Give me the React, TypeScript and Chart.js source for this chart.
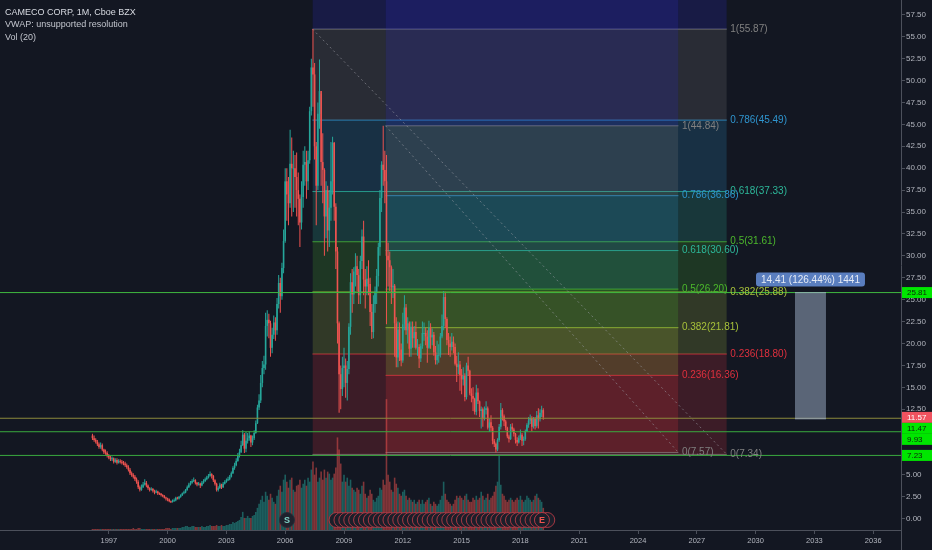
import React, { useEffect, useRef } from "react";
import { Chart, registerables } from "chart.js";

Chart.register(...registerables);

// ---------- data (monthly candles, Mar 1996 .. Mar 2019) ----------
const START_YEAR = 1996;
const START_MONTH = 2; // March, 0-based
const FIRST_OPEN = 9.5;

const closes = [
  9.2, 9.0, 8.8, 8.5, 8.2, 8.4, 7.9, 7.6, 7.5, 7.2,
  7.0, 6.8, 6.9, 6.5, 6.7, 6.4, 6.6, 6.5, 6.4, 6.3, 6.1, 5.9,
  5.6, 5.2, 5.0, 4.8, 4.5, 4.2, 3.6, 3.3, 3.6, 3.9, 4.1, 3.8,
  3.5, 3.3, 3.4, 3.2, 3.0, 3.1, 2.9, 2.85, 2.7, 2.6, 2.4, 2.3,
  2.2, 2.0, 1.9, 2.0, 2.1, 2.4, 2.3, 2.5, 2.7, 2.9, 3.0, 3.3,
  3.6, 3.9, 4.1, 4.3, 4.4, 4.1, 3.9, 4.0, 3.8, 4.1, 4.3, 4.5,
  4.7, 4.9, 5.1, 4.9, 4.4, 4.0, 3.3, 3.5, 3.9, 3.6, 4.0, 4.2,
  4.4, 4.5, 4.8, 5.2, 5.8, 6.1, 6.6, 7.2, 7.6, 8.4, 9.6, 8.0,
  8.9, 9.2, 9.5, 8.7, 9.2, 9.8, 10.9, 12.7, 13.5, 15.5, 17.2, 17.6,
  22.0, 22.7, 22.3, 19.5, 21.0, 22.4, 21.5, 24.5, 26.9, 25.4, 28.6, 31.7,
  38.5, 37.0, 36.0, 40.5, 40.0, 40.0, 39.0, 37.5, 36.5, 33.8, 36.7, 40.4,
  40.7, 38.5, 40.9, 46.5, 51.5, 50.7, 42.5, 38.0, 46.2, 48.8, 40.7, 39.8,
  34.5, 37.5, 32.9, 35.5, 38.5, 42.9, 35.6, 30.5, 22.3, 16.5, 14.8, 17.2,
  17.5, 15.5, 17.1, 21.9, 27.0, 25.6, 28.2, 28.8, 27.8, 25.5, 29.4, 32.2,
  27.3, 26.5, 27.4, 26.8, 23.6, 21.3, 24.5, 25.9, 27.7, 31.0, 36.6, 40.4,
  39.8, 38.5, 30.0, 29.5, 28.7, 26.4, 26.6, 22.3, 18.4, 21.6, 19.3, 18.05,
  22.2, 24.1, 21.5, 22.3, 19.4, 21.9, 20.6, 21.3, 19.5, 19.6, 18.3, 19.7,
  21.2, 21.2, 20.8, 19.5, 21.8, 20.7, 21.0, 19.0, 18.1, 18.7, 18.7, 20.8,
  22.0, 25.3, 22.8, 20.4, 20.0, 19.6, 20.2, 19.6, 17.7, 17.3, 17.6, 16.4,
  15.9, 16.3, 13.9, 17.5, 16.9, 14.3, 14.0, 13.7, 12.2, 14.4, 13.4, 12.3,
  12.5, 11.4, 12.4, 12.6, 10.4, 11.0, 10.4, 8.9, 8.55, 7.9, 9.0, 10.5,
  12.4, 11.7, 11.1, 10.4, 9.4, 9.1, 10.5, 10.2, 9.7, 9.0, 8.7, 9.2,
  9.6, 8.9, 9.1, 10.0, 10.7, 11.2, 11.5, 10.5, 11.4, 10.6, 11.8, 11.35,
  12.1, 12.4, 11.57,
];

const highs = [
  9.7, 9.5, 9.2, 9.0, 8.7, 8.7, 8.6, 8.0, 7.9, 7.7,
  7.4, 7.2, 7.1, 7.0, 6.9, 6.9, 6.8, 6.8, 6.7, 6.6, 6.5, 6.3,
  6.1, 5.8, 5.4, 5.2, 5.0, 4.7, 4.4, 3.8, 3.9, 4.2, 4.5, 4.3,
  3.9, 3.6, 3.6, 3.5, 3.3, 3.3, 3.2, 3.0, 2.95, 2.8, 2.7, 2.5,
  2.4, 2.3, 2.1, 2.2, 2.3, 2.5, 2.5, 2.6, 2.8, 3.0, 3.2, 3.4,
  3.8, 4.1, 4.3, 4.5, 4.7, 4.5, 4.2, 4.2, 4.1, 4.3, 4.5, 4.7,
  4.9, 5.1, 5.4, 5.2, 5.0, 4.5, 4.1, 3.7, 4.1, 4.0, 4.2, 4.4,
  4.6, 4.8, 5.0, 5.4, 6.0, 6.4, 6.9, 7.5, 8.0, 8.9, 10.1, 9.8,
  9.9, 9.8, 10.0, 9.6, 9.5, 10.1, 11.2, 13.0, 14.2, 16.4, 18.0, 18.6,
  23.5, 23.8, 23.4, 22.6, 21.8, 23.2, 23.0, 25.2, 27.8, 27.5, 29.2, 33.0,
  40.0, 40.0, 39.0, 44.4, 43.5, 42.0, 41.5, 41.8, 39.5, 37.0, 38.5, 42.0,
  42.5, 42.0, 42.0, 47.0, 52.5, 55.87, 52.0, 43.0, 47.5, 52.4, 48.5, 44.0,
  40.0, 38.5, 38.0, 37.5, 43.0, 43.6, 43.0, 36.0, 31.0, 22.5, 17.5, 18.5,
  19.5, 18.3, 18.0, 22.3, 28.0, 28.5, 28.7, 30.3, 30.0, 28.5, 30.0, 33.0,
  34.0, 28.5, 28.8, 29.5, 27.5, 24.5, 25.5, 26.5, 28.5, 31.5, 37.5, 40.8,
  44.84, 42.0, 41.5, 31.5, 30.5, 28.9, 28.5, 26.8, 23.0, 22.5, 22.4, 20.0,
  23.5, 25.5, 24.5, 23.0, 22.5, 22.5, 22.5, 22.0, 22.5, 20.5, 19.9, 20.0,
  22.5, 22.4, 21.8, 21.5, 22.6, 22.3, 21.7, 21.3, 19.7, 20.3, 19.9, 21.2,
  23.3, 26.0, 25.9, 23.0, 21.2, 20.8, 21.2, 20.8, 20.0, 18.6, 19.0, 18.0,
  17.1, 17.3, 16.6, 17.8, 18.5, 17.0, 14.9, 15.0, 13.8, 15.3, 14.9, 13.5,
  12.8, 12.7, 12.8, 13.4, 12.8, 11.4, 11.8, 10.6, 9.1, 8.7, 9.2, 10.8,
  13.2, 12.6, 11.9, 11.3, 10.5, 9.6, 10.8, 10.9, 10.4, 9.8, 9.3, 9.5,
  10.2, 9.8, 9.4, 10.2, 10.9, 11.6, 11.9, 11.7, 11.6, 11.6, 12.3, 12.6,
  12.5, 12.9, 12.6,
];

const lows = [
  9.0, 8.8, 8.6, 8.3, 8.0, 8.0, 7.7, 7.4, 7.3, 7.0,
  6.8, 6.6, 6.6, 6.3, 6.4, 6.2, 6.3, 6.3, 6.2, 6.1, 5.9, 5.7,
  5.4, 5.0, 4.8, 4.6, 4.3, 4.0, 3.4, 3.1, 3.2, 3.5, 3.8, 3.6,
  3.3, 3.1, 3.2, 3.0, 2.8, 2.9, 2.7, 2.7, 2.55, 2.45, 2.3, 2.1,
  2.0, 1.9, 1.8, 1.85, 1.95, 2.0, 2.2, 2.2, 2.4, 2.6, 2.8, 2.9,
  3.2, 3.5, 3.8, 4.0, 4.2, 3.9, 3.7, 3.8, 3.5, 3.7, 4.0, 4.2,
  4.4, 4.6, 4.8, 4.6, 4.2, 3.8, 3.1, 3.1, 3.4, 3.4, 3.5, 3.9,
  4.1, 4.3, 4.4, 4.7, 5.1, 5.6, 6.0, 6.5, 7.0, 7.5, 8.3, 7.5,
  7.6, 8.6, 8.9, 8.2, 8.4, 9.0, 9.7, 10.8, 12.4, 13.2, 15.0, 16.5,
  17.0, 20.8, 20.6, 18.5, 18.9, 20.5, 20.3, 21.0, 24.0, 23.5, 25.0, 28.0,
  31.5, 34.0, 33.5, 35.5, 34.5, 35.0, 35.5, 34.5, 33.5, 31.0, 33.0, 35.5,
  38.0, 36.5, 37.5, 40.5, 46.0, 47.0, 41.0, 33.5, 37.5, 44.5, 38.0, 36.0,
  30.0, 32.0, 30.5, 31.0, 34.0, 37.0, 34.0, 28.5, 20.0, 12.1, 12.5, 14.0,
  15.0, 13.8, 13.5, 16.5, 21.0, 23.5, 24.5, 26.5, 26.0, 24.5, 24.5, 28.5,
  25.5, 24.0, 25.5, 25.5, 22.0, 20.5, 20.6, 23.5, 24.5, 26.5, 30.0, 35.0,
  38.0, 36.0, 22.2, 26.5, 26.0, 24.5, 25.2, 18.5, 17.3, 17.3, 18.0, 17.4,
  17.8, 21.5, 21.0, 20.0, 18.5, 18.5, 19.5, 19.5, 19.3, 18.6, 17.2, 17.9,
  19.4, 20.3, 19.8, 17.8, 19.4, 19.4, 19.8, 18.6, 17.6, 17.6, 17.8, 18.4,
  20.6, 21.5, 21.8, 19.8, 18.7, 18.5, 19.2, 18.9, 17.5, 15.6, 16.5, 14.6,
  14.2, 15.2, 13.4, 13.6, 16.3, 14.1, 13.3, 12.3, 11.9, 11.8, 13.1, 11.6,
  10.3, 10.5, 11.2, 11.9, 10.2, 9.9, 10.0, 8.5, 8.2, 7.57, 7.7, 8.8,
  10.2, 11.2, 10.6, 10.1, 9.2, 8.7, 9.0, 9.9, 9.4, 8.6, 8.3, 8.6,
  9.0, 8.3, 8.4, 8.9, 9.9, 10.4, 10.8, 10.0, 10.3, 10.2, 10.4, 10.3,
  11.1, 11.6, 11.3,
];

// volume, millions of shares
const volumes = [
  1, 1, 1, 1, 1, 1, 1, 1, 1, 1,
  1, 1, 1, 1, 1, 1, 1, 1, 1, 1, 1, 1,
  1, 1, 1, 2, 1, 1, 2, 2, 1, 1, 1, 1,
  1, 1, 1, 1, 1, 1, 1, 1, 1, 1, 1, 2,
  2, 2, 1, 2, 2, 2, 2, 2, 2, 3, 3, 4,
  4, 3, 3, 4, 4, 3, 3, 3, 3, 4, 3, 3,
  4, 4, 5, 4, 4, 4, 5, 4, 4, 5, 4, 4,
  5, 5, 6, 6, 8, 7, 8, 9, 10, 13, 18, 12,
  12, 14, 12, 12, 14, 15, 18, 22, 26, 30, 34, 28,
  38, 34, 30, 36, 32, 28, 26, 34, 40, 44, 38, 50,
  55, 48, 42, 50, 52, 40, 38, 44, 45, 50, 42, 46,
  50, 44, 52, 48, 60, 68, 55, 62, 48, 52, 58, 50,
  60, 52, 58, 56, 50, 52, 56, 62, 92, 80, 66, 48,
  55, 48, 52, 44, 50, 42, 40, 38, 42, 40, 36, 44,
  48, 36, 32, 34, 40, 36, 30, 28, 32, 34, 42, 40,
  50, 45, 130, 55, 48, 40, 38, 52, 46, 42, 36, 34,
  38, 40, 34, 30, 32, 30, 28, 30, 26, 28, 30, 26,
  30, 26, 28, 30, 32, 26, 24, 28, 26, 24, 26, 30,
  34, 48, 36, 30, 28, 26, 24, 26, 30, 34, 32, 34,
  32, 30, 34, 36, 30, 28, 28, 32, 30, 34, 30, 32,
  38, 34, 30, 32, 36, 30, 32, 34, 38, 44, 48, 74,
  45, 36, 34, 30, 28, 30, 32, 30, 28, 30, 32, 30,
  34, 30, 28, 30, 34, 32, 30, 28, 30, 34, 36, 32,
  30, 28, 22,
];

const yearTicks = [1997, 2000, 2003, 2006, 2009, 2012, 2015, 2018, 2021, 2024, 2027, 2030, 2033, 2036];
const priceTicks = [0, 2.5, 5, 7.5, 10, 12.5, 15, 17.5, 20, 22.5, 25, 27.5, 30, 32.5, 35, 37.5, 40, 42.5, 45, 47.5, 50, 52.5, 55, 57.5];

const X_RANGE = [1991.449, 2037.418];
const Y_RANGE = [-1.28, 59.19];

// Fibonacci retracements
const fibRatios = [0, 0.236, 0.382, 0.5, 0.618, 0.786, 1, 1.618];
const fibColors = ["#808080", "#e0303e", "#a8c23a", "#4cb82c", "#2db89a", "#2f95cf", "#808080", "#2f2fd0"];
const fib1Span = [2007.39, 2028.53];
const fib1Prices = [7.3445, 55.872];
const fib2Span = [2011.12, 2026.06];
const fib2Prices = [7.568, 44.84];

// horizontal lines
const hLinePrices = [25.81, 11.47, 9.93, 7.23];
const hLineColors = ["#3fb83f", "#8c8a3c", "#3aaa3f", "#3aaa3f"];

// price range measurement
const rangeSpan = [2032.01, 2033.59];
const rangePrices = [11.397, 25.807];

// events
const dividendDates = [
  2008.62, 2008.87, 2009.12, 2009.37, 2009.62, 2009.87, 2010.12, 2010.37, 2010.62, 2010.87,
  2011.12, 2011.37, 2011.62, 2011.87, 2012.12, 2012.37, 2012.62, 2012.87, 2013.12, 2013.37,
  2013.62, 2013.87, 2014.12, 2014.37, 2014.62, 2014.87, 2015.12, 2015.37, 2015.62, 2015.87,
  2016.12, 2016.37, 2016.62, 2016.87, 2017.12, 2017.37, 2017.62, 2017.87, 2018.12, 2018.37,
  2018.62, 2018.87, 2019.12, 2019.37,
];
const splitDate = 2006.09;
const earningsDate = 2019.1;
const MARKER_LEVEL = -0.14;

const legendLines = ["CAMECO CORP, 1M, Cboe BZX", "VWAP: unsupported resolution", "Vol (20)"];

// ---------- helpers ----------
const UP = "#26a69a";
const DOWN = "#ef5350";
const FONT = '"Liberation Sans", Arial, sans-serif';

function rgba(hex: string, a: number) {
  const n = parseInt(hex.slice(1), 16);
  return `rgba(${(n >> 16) & 255},${(n >> 8) & 255},${n & 255},${a})`;
}

function fibLabel(r: number, p: number) {
  return `${r}(${p.toFixed(2)})`;
}

function buildConfig() {
  const times = closes.map((_, i) => START_YEAR + (START_MONTH + i) / 12);
  const opens = closes.map((_, i) => (i === 0 ? FIRST_OPEN : closes[i - 1]));
  const isUp = closes.map((c, i) => c >= opens[i]);
  const candleColors = isUp.map((u) => (u ? UP : DOWN));
  const volColors = isUp.map((u) => (u ? "rgba(38,166,154,0.5)" : "rgba(239,83,80,0.5)"));
  const maxVol = Math.max(...volumes);

  const datasets: any[] = [];

  const addFib = (span: number[], prices: number[]) => {
    const [lo, hi] = prices;
    fibRatios.forEach((r, k) => {
      const p = lo + r * (hi - lo);
      datasets.push({
        type: "line",
        data: [{ x: span[0], y: p }, { x: span[1], y: p }],
        borderColor: rgba(fibColors[k], 0.8),
        borderWidth: 1,
        backgroundColor: rgba(fibColors[k], 0.2),
        fill: k === 0 ? false : "-1",
        pointRadius: 0,
        yAxisID: "y",
      });
    });
  };
  addFib(fib1Span, fib1Prices);
  addFib(fib2Span, fib2Prices);

  [
    [fib1Span, fib1Prices],
    [fib2Span, fib2Prices],
  ].forEach(([span, prices]) => {
    datasets.push({
      type: "line",
      data: [{ x: span[0], y: prices[1] }, { x: span[1], y: prices[0] }],
      borderColor: "rgba(160,160,170,0.55)",
      borderWidth: 1,
      borderDash: [2, 3],
      pointRadius: 0,
      fill: false,
      yAxisID: "y",
    });
  });

  // volume
  datasets.push({
    type: "bar",
    data: times.map((t, i) => ({ x: t, y: volumes[i] })),
    backgroundColor: volColors,
    barThickness: 1.6,
    grouped: false,
    inflateAmount: 0,
    borderWidth: 0,
    yAxisID: "yv",
  });

  // wicks
  datasets.push({
    type: "bar",
    data: times.map((t, i) => ({ x: t, y: [lows[i], highs[i]] })),
    backgroundColor: candleColors,
    barThickness: 1,
    grouped: false,
    inflateAmount: 0,
    borderWidth: 0,
    yAxisID: "y",
  });

  // bodies
  datasets.push({
    type: "bar",
    data: times.map((t, i) => ({ x: t, y: [opens[i], closes[i]] })),
    backgroundColor: candleColors,
    barThickness: 1.6,
    minBarLength: 1,
    grouped: false,
    inflateAmount: 0,
    borderWidth: 0,
    yAxisID: "y",
  });

  // horizontal lines
  hLinePrices.forEach((p, k) => {
    datasets.push({
      type: "line",
      data: [{ x: X_RANGE[0], y: p }, { x: X_RANGE[1], y: p }],
      borderColor: hLineColors[k],
      borderWidth: 1,
      pointRadius: 0,
      fill: false,
      yAxisID: "y",
    });
  });

  // price range rectangle
  datasets.push({
    type: "line",
    data: [{ x: rangeSpan[0], y: rangePrices[0] }, { x: rangeSpan[1], y: rangePrices[0] }],
    borderColor: "rgba(170,185,210,0.6)",
    borderWidth: 1,
    pointRadius: 0,
    fill: false,
    yAxisID: "y",
  });
  datasets.push({
    type: "line",
    data: [{ x: rangeSpan[0], y: rangePrices[1] }, { x: rangeSpan[1], y: rangePrices[1] }],
    borderColor: "rgba(170,185,210,0.6)",
    borderWidth: 1,
    backgroundColor: "rgba(150,165,190,0.55)",
    fill: "-1",
    pointRadius: 0,
    yAxisID: "y",
  });

  // markers
  datasets.push({
    type: "line",
    showLine: false,
    data: [{ x: splitDate, y: MARKER_LEVEL }],
    pointRadius: 7.5,
    pointBackgroundColor: "#1e222d",
    pointBorderColor: "#2a2e39",
    pointBorderWidth: 1,
    clip: false,
    yAxisID: "y",
  });
  datasets.push({
    type: "line",
    showLine: false,
    data: dividendDates.map((d) => ({ x: d, y: MARKER_LEVEL })),
    pointRadius: 7.5,
    pointBackgroundColor: "#1b1f2a",
    pointBorderColor: "rgba(190,60,72,0.85)",
    pointBorderWidth: 1,
    clip: false,
    yAxisID: "y",
  });
  datasets.push({
    type: "line",
    showLine: false,
    data: [{ x: earningsDate, y: MARKER_LEVEL }],
    pointRadius: 7.5,
    pointBackgroundColor: "#1b1f2a",
    pointBorderColor: "rgba(190,60,72,0.85)",
    pointBorderWidth: 1,
    clip: false,
    yAxisID: "y",
  });

  datasets.forEach((d, i) => {
    d.order = datasets.length - i;
    d.xAxisID = "x";
  });

  const lastClose = closes[closes.length - 1];
  const lastOpen = opens[opens.length - 1];

  const overlay = {
    id: "overlay",
    afterDatasetsDraw(chart: any) {
      const { ctx } = chart;
      const x = chart.scales.x;
      const y = chart.scales.y;
      ctx.save();
      ctx.textBaseline = "middle";
      ctx.textAlign = "left";
      ctx.font = `10px ${FONT}`;
      const drawFibLabels = (span: number[], prices: number[]) => {
        const [lo, hi] = prices;
        const px = x.getPixelForValue(span[1]) + 3.5;
        fibRatios.forEach((r, k) => {
          const p = lo + r * (hi - lo);
          if (p > Y_RANGE[1]) return;
          ctx.fillStyle = fibColors[k];
          ctx.fillText(fibLabel(r, p), px, y.getPixelForValue(p));
        });
      };
      drawFibLabels(fib1Span, fib1Prices);
      drawFibLabels(fib2Span, fib2Prices);

      // price range label
      const diff = rangePrices[1] - rangePrices[0];
      const pct = (diff / rangePrices[0]) * 100;
      const txt = `${diff.toFixed(2)} (${pct.toFixed(2)}%) ${Math.round(diff * 100)}`;
      const cx = (x.getPixelForValue(rangeSpan[0]) + x.getPixelForValue(rangeSpan[1])) / 2;
      const topY = y.getPixelForValue(rangePrices[1]);
      const tw = ctx.measureText(txt).width;
      const bw = tw + 10;
      const bh = 14;
      const bx = cx - bw / 2;
      const by = topY - 6 - bh;
      ctx.fillStyle = "#5a7ebf";
      ctx.beginPath();
      (ctx as any).roundRect(bx, by, bw, bh, 3);
      ctx.fill();
      ctx.fillStyle = "#e6ebf5";
      ctx.textAlign = "center";
      ctx.fillText(txt, cx, by + bh / 2 + 0.5);

      // marker letters
      ctx.font = `bold 9px ${FONT}`;
      ctx.fillStyle = "#7fd0c4";
      ctx.fillText("S", x.getPixelForValue(splitDate), y.getPixelForValue(MARKER_LEVEL) + 0.5);
      ctx.fillStyle = "#ef5350";
      ctx.fillText("E", x.getPixelForValue(earningsDate), y.getPixelForValue(MARKER_LEVEL) + 0.5);
      ctx.restore();
    },
    afterDraw(chart: any) {
      const { ctx, chartArea } = chart;
      const y = chart.scales.y;
      ctx.save();
      // frame line continuing below the price axis
      ctx.strokeStyle = "#4c505b";
      ctx.lineWidth = 1;
      ctx.beginPath();
      ctx.moveTo(chartArea.right + 0.5, chartArea.bottom);
      ctx.lineTo(chartArea.right + 0.5, chart.height);
      ctx.stroke();

      // price axis labels
      const items = [
        ...hLinePrices.map((p) => ({ p, bg: "#00e600", fg: "#0c260c" })),
        { p: lastClose, bg: lastClose >= lastOpen ? UP : "#f0525f", fg: "#ffffff" },
      ].map((it) => ({ ...it, cy: y.getPixelForValue(it.p) }));
      items.sort((a, b) => a.cy - b.cy);
      const bh = 11;
      let prevBottom = -Infinity;
      ctx.font = `8px ${FONT}`;
      ctx.textBaseline = "middle";
      ctx.textAlign = "left";
      items.forEach((it) => {
        let top = it.cy - bh / 2;
        if (top < prevBottom) top = prevBottom;
        prevBottom = top + bh;
        ctx.fillStyle = it.bg;
        ctx.fillRect(chartArea.right + 1, top, chart.width - chartArea.right - 1, bh);
        ctx.fillStyle = it.fg;
        ctx.fillText(it.p.toFixed(2), chartArea.right + 6, top + bh / 2 + 0.5);
      });

      // legend
      ctx.textBaseline = "alphabetic";
      ctx.font = `9px ${FONT}`;
      legendLines.forEach((line, i) => {
        ctx.fillStyle = i === 0 ? "#d8dbe2" : "#c3c6ce";
        ctx.fillText(line, 5, 14.5 + i * 12.5);
      });
      ctx.restore();
    },
  };

  return {
    type: "bar",
    data: { datasets },
    options: {
      animation: false,
      responsive: false,
      maintainAspectRatio: false,
      devicePixelRatio: 1,
      events: [],
      layout: { padding: 0, autoPadding: false },
      plugins: { legend: { display: false }, tooltip: { enabled: false }, title: { display: false } },
      scales: {
        x: {
          type: "linear",
          min: X_RANGE[0],
          max: X_RANGE[1],
          offset: false,
          position: "bottom",
          afterFit: (s: any) => {
            s.height = 20;
            s.paddingLeft = 0;
            s.paddingRight = 0;
          },
          afterBuildTicks: (s: any) => {
            s.ticks = yearTicks.map((v) => ({ value: v }));
          },
          grid: { display: true, drawOnChartArea: false, drawTicks: true, tickLength: 4, color: "#4c505b", offset: false },
          border: { display: true, color: "#4c505b" },
          ticks: {
            autoSkip: false,
            maxRotation: 0,
            padding: 2,
            color: "#b2b5be",
            font: { family: FONT, size: 7.5 },
            callback: (v: any) => String(v),
          },
        },
        y: {
          type: "linear",
          position: "right",
          min: Y_RANGE[0],
          max: Y_RANGE[1],
          afterFit: (s: any) => {
            s.width = 31;
            s.paddingTop = 0;
            s.paddingBottom = 0;
          },
          afterBuildTicks: (s: any) => {
            s.ticks = priceTicks.map((v) => ({ value: v }));
          },
          grid: { display: true, drawOnChartArea: false, drawTicks: true, tickLength: 4, color: "#4c505b" },
          border: { display: true, color: "#4c505b" },
          ticks: {
            padding: 1,
            color: "#b2b5be",
            font: { family: FONT, size: 8 },
            callback: (v: any) => Number(v).toFixed(2),
          },
        },
        yv: {
          type: "linear",
          display: false,
          min: 0,
          max: maxVol * 4.05,
        },
      },
    },
    plugins: [overlay],
  };
}

export default function App() {
  const ref = useRef<HTMLCanvasElement>(null);
  useEffect(() => {
    const canvas = ref.current;
    if (!canvas) return;
    const chart = new Chart(canvas, buildConfig() as any);
    return () => chart.destroy();
  }, []);
  return (
    <div style={{ position: "absolute", left: 0, top: 0, width: 932, height: 550, background: "#131722", overflow: "hidden" }}>
      <canvas ref={ref} width={932} height={550} style={{ display: "block", width: 932, height: 550 }} />
    </div>
  );
}
